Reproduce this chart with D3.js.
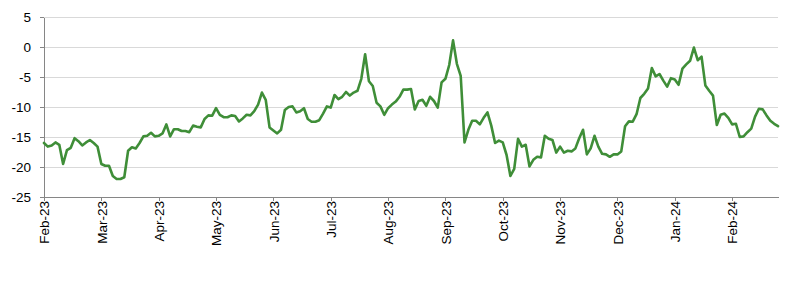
<!DOCTYPE html>
<html>
<head>
<meta charset="utf-8">
<script src="https://cdn.jsdelivr.net/npm/d3@7"></script>
<style>
  html, body { margin: 0; padding: 0; background: #fff; }
  svg { display: block; font-family: "Liberation Sans", Arial, sans-serif; }
</style>
</head>
<body>
<svg id="chart" width="800" height="292"></svg>
<script>
// Series values (one point per trading-day step)
const values = [
  -16.0, -16.6, -16.4, -15.9, -16.3, -19.5, -17.2, -16.8, -15.2, -15.7,
  -16.4, -15.9, -15.5, -16.0, -16.6, -19.5, -19.8, -19.8, -21.5, -22.0,
  -22.0, -21.7, -17.3, -16.7, -16.9, -16.0, -14.9, -14.8, -14.3, -14.9,
  -14.8, -14.4, -12.9, -14.9, -13.7, -13.7, -14.0, -14.0, -14.2, -13.1,
  -13.3, -13.4, -12.0, -11.4, -11.45, -10.2, -11.3, -11.7, -11.7, -11.4,
  -11.5, -12.4, -11.9, -11.3, -11.4, -10.7, -9.6, -7.6, -8.8, -13.4,
  -13.9, -14.4, -13.8, -10.5, -10.0, -9.9, -10.9, -10.7, -10.2, -12.0,
  -12.45, -12.45, -12.2, -11.1, -9.9, -10.1, -8.0, -8.7, -8.3, -7.5,
  -8.1, -7.6, -7.3, -5.3, -1.2, -5.7, -6.5, -9.3, -9.9, -11.3,
  -10.2, -9.6, -9.1, -8.3, -7.1, -7.1, -7.0, -10.4, -9.0, -8.8,
  -9.8, -8.3, -9.0, -10.1, -5.9, -5.3, -3.0, 1.1, -2.8, -4.8,
  -15.9, -13.8, -12.3, -12.3, -12.9, -11.8, -10.9, -13.1, -16.0, -15.6,
  -15.9, -18.0, -21.5, -20.3, -15.3, -16.6, -16.3, -19.9, -18.8, -18.3,
  -18.4, -14.8, -15.3, -15.5, -17.6, -16.6, -17.6, -17.3, -17.4, -16.9,
  -15.2, -13.8, -17.9, -16.9, -14.8, -16.6, -17.8, -17.9, -18.3, -17.9,
  -17.9, -17.4, -13.2, -12.4, -12.45, -11.2, -8.5, -7.8, -6.9, -3.5,
  -4.9, -4.5, -5.6, -6.6, -5.2, -5.4, -6.3, -3.6, -2.9, -2.3,
  -0.1, -2.2, -1.6, -6.4, -7.3, -8.1, -13.0, -11.3, -11.1, -11.8,
  -12.9, -12.8, -15.0, -14.9, -14.2, -13.6, -11.6, -10.3, -10.4, -11.4,
  -12.3, -12.8, -13.2
];

// Category tick labels (one every tickStep points)
const tickLabels = ["Feb-23","Mar-23","Apr-23","May-23","Jun-23","Jul-23",
  "Aug-23","Sep-23","Oct-23","Nov-23","Dec-23","Jan-24","Feb-24"];
const tickStep = 15;

// Y-axis ticks
const yTicks = [-25, -20, -15, -10, -5, 0, 5];

const svg = d3.select("#chart");
const mLeft = 44, mRight = 778, mTop = 17, mBottom = 197;

const x = d3.scaleLinear().domain([0, values.length - 1]).range([mLeft, mRight]);
const y = d3.scaleLinear().domain([-25, 5]).range([mBottom, mTop]);

// Gridlines
svg.append("g")
  .selectAll("line")
  .data(yTicks.filter(d => d !== -25))
  .join("line")
  .attr("x1", mLeft).attr("x2", mRight)
  .attr("y1", d => y(d)).attr("y2", d => y(d))
  .attr("stroke", "#d9d9d9")
  .attr("stroke-width", 1)
  .attr("shape-rendering", "crispEdges");

// Y axis
const yAxis = svg.append("g")
  .attr("transform", `translate(${mLeft},0)`)
  .call(d3.axisLeft(y).tickValues(yTicks).tickFormat(d => String(d))
    .tickSize(4).tickSizeOuter(0).tickPadding(9));
yAxis.select(".domain").attr("stroke", "#868686").attr("shape-rendering", "crispEdges");
yAxis.selectAll(".tick line").attr("stroke", "#868686").attr("shape-rendering", "crispEdges");
yAxis.selectAll("text").attr("font-size", 13.5).attr("fill", "#000");

// X axis
const xTickVals = tickLabels.map((_, i) => i * tickStep);
const xAxis = svg.append("g")
  .attr("transform", `translate(0,${mBottom})`)
  .call(d3.axisBottom(x).tickValues(xTickVals)
    .tickFormat((d, i) => tickLabels[i]).tickSize(4).tickSizeOuter(0));
xAxis.select(".domain").attr("stroke", "#868686").attr("shape-rendering", "crispEdges");
xAxis.selectAll(".tick line").attr("stroke", "#868686").attr("shape-rendering", "crispEdges");
xAxis.selectAll("text")
  .attr("font-size", 13.5)
  .attr("fill", "#000")
  .attr("text-anchor", "end")
  .attr("transform", "translate(0,4) rotate(-90)")
  .attr("x", 0).attr("y", 0)
  .attr("dx", 0).attr("dy", "0.35em");

// Line
const line = d3.line()
  .x((d, i) => x(i))
  .y(d => y(d));

svg.append("path")
  .datum(values)
  .attr("d", line)
  .attr("fill", "none")
  .attr("stroke", "#3f8e38")
  .attr("stroke-width", 2.6)
  .attr("stroke-linejoin", "round")
  .attr("stroke-linecap", "round");
</script>
</body>
</html>
